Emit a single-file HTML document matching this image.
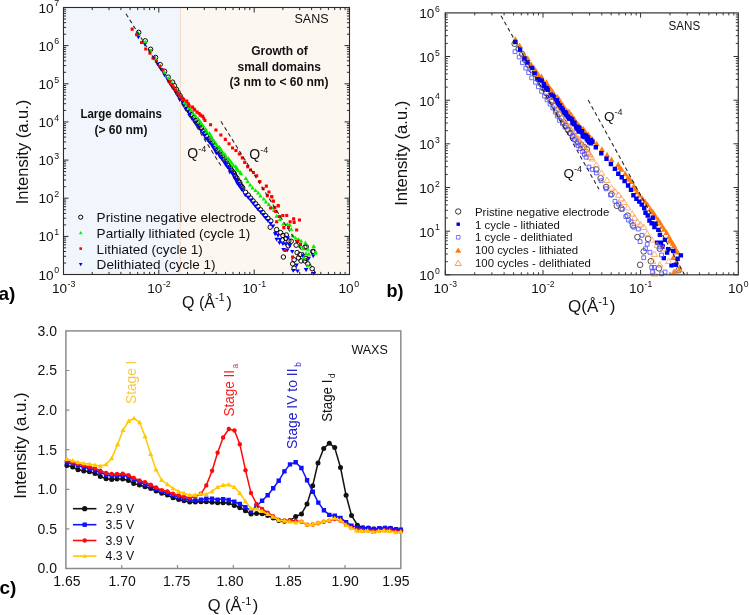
<!DOCTYPE html><html><head><meta charset="utf-8"><style>html,body{margin:0;padding:0;background:#fff;}svg{display:block;will-change:transform;}text{font-family:"Liberation Sans", sans-serif;}</style></head><body>
<svg width="749" height="615" viewBox="0 0 749 615">
<rect width="749" height="615" fill="#fff"/>
<rect x="63.5" y="7.5" width="116.80000000000001" height="267.0" fill="#f1f6fc"/>
<rect x="180.3" y="7.5" width="169.2" height="267.0" fill="#fdf7f2"/>
<path d="M180.3 7.5V274.5" stroke="#f6d9c6" stroke-width="1"/>
<text x="311.5" y="23" font-size="12.5" text-anchor="middle" fill="#111">SANS</text>
<g font-size="12" font-weight="bold" fill="#111" text-anchor="middle">
<text x="279.5" y="54.5">Growth of</text>
<text x="279.3" y="70.5">small domains</text>
<text x="279" y="86.3">(3 nm to &lt; 60 nm)</text>
<text x="121.2" y="117.8" textLength="81.5" lengthAdjust="spacingAndGlyphs">Large domains</text>
<text x="120.9" y="133.8">(&gt; 60 nm)</text>
</g>
<g font-size="14" fill="#111"><text x="187.3" y="157.6">Q<tspan dy="-6" font-size="9">-4</tspan></text>
<text x="249.3" y="158.6">Q<tspan dy="-6" font-size="9">-4</tspan></text></g>
<g stroke="#000" stroke-width="0.95" fill="none"><circle cx="138.7" cy="32.4" r="2.25"/><circle cx="145.2" cy="40.8" r="2.25"/><circle cx="150.6" cy="49.3" r="2.25"/><circle cx="155.6" cy="57.5" r="2.25"/><circle cx="160.2" cy="64.6" r="2.25"/><circle cx="164.6" cy="71.3" r="2.25"/><circle cx="168.2" cy="77.2" r="2.25"/><circle cx="172.6" cy="82.2" r="2.25"/><circle cx="174.4" cy="85.7" r="2.25"/><circle cx="176.4" cy="89.3" r="2.25"/><circle cx="178.1" cy="92.5" r="2.25"/><circle cx="180.1" cy="95.7" r="2.25"/><circle cx="182.2" cy="99.1" r="2.25"/><circle cx="184" cy="102.6" r="2.25"/><circle cx="186" cy="105.5" r="2.25"/><circle cx="187.8" cy="108.6" r="2.25"/><circle cx="189.7" cy="111.7" r="2.25"/><circle cx="191.6" cy="114.6" r="2.25"/><circle cx="193.5" cy="117.8" r="2.25"/><circle cx="195.5" cy="120.6" r="2.25"/><circle cx="197.6" cy="122.9" r="2.25"/><circle cx="199.4" cy="126.1" r="2.25"/><circle cx="201.5" cy="128.1" r="2.25"/><circle cx="203" cy="130.9" r="2.25"/><circle cx="204.9" cy="133.3" r="2.25"/><circle cx="206.8" cy="136.1" r="2.25"/><circle cx="209.1" cy="138.8" r="2.25"/><circle cx="210.5" cy="141.1" r="2.25"/><circle cx="212.6" cy="143.1" r="2.25"/><circle cx="214.5" cy="146.1" r="2.25"/><circle cx="215.8" cy="148.5" r="2.25"/><circle cx="217.6" cy="150.5" r="2.25"/><circle cx="219.7" cy="153" r="2.25"/><circle cx="220.8" cy="155" r="2.25"/><circle cx="222.7" cy="157.1" r="2.25"/><circle cx="224.1" cy="159.3" r="2.25"/><circle cx="226" cy="161.3" r="2.25"/><circle cx="227.4" cy="163.8" r="2.25"/><circle cx="228.6" cy="165.8" r="2.25"/><circle cx="230.5" cy="168.1" r="2.25"/><circle cx="231.6" cy="170.5" r="2.25"/><circle cx="233.5" cy="172.6" r="2.25"/><circle cx="234.4" cy="174.1" r="2.25"/><circle cx="235.6" cy="176.6" r="2.25"/><circle cx="236.9" cy="178.2" r="2.25"/><circle cx="238.2" cy="180.9" r="2.25"/><circle cx="239.7" cy="182.3" r="2.25"/><circle cx="240.4" cy="184.9" r="2.25"/><circle cx="241.8" cy="186.6" r="2.25"/><circle cx="242.7" cy="188" r="2.25"/><circle cx="245.6" cy="192.3" r="2.25"/><circle cx="248.3" cy="195.1" r="2.25"/><circle cx="250.7" cy="198.1" r="2.25"/><circle cx="253.1" cy="201" r="2.25"/><circle cx="255.6" cy="203.8" r="2.25"/><circle cx="258" cy="206.6" r="2.25"/><circle cx="260.6" cy="209.8" r="2.25"/><circle cx="262.9" cy="212.5" r="2.25"/><circle cx="265.5" cy="215.7" r="2.25"/><circle cx="268" cy="218.3" r="2.25"/><circle cx="270.8" cy="220.9" r="2.25"/><circle cx="270.2" cy="227.2" r="2.25"/><circle cx="276.6" cy="229.6" r="2.25"/><circle cx="280.5" cy="232.6" r="2.25"/><circle cx="282.9" cy="235.5" r="2.25"/><circle cx="286.3" cy="235" r="2.25"/><circle cx="285.9" cy="238.4" r="2.25"/><circle cx="282.4" cy="239.9" r="2.25"/><circle cx="288.8" cy="240.9" r="2.25"/><circle cx="291.2" cy="241.3" r="2.25"/><circle cx="288.3" cy="245.7" r="2.25"/><circle cx="296.1" cy="245.2" r="2.25"/><circle cx="304.9" cy="247.2" r="2.25"/><circle cx="297.1" cy="252.6" r="2.25"/><circle cx="300" cy="254.5" r="2.25"/><circle cx="298.5" cy="257.9" r="2.25"/><circle cx="301" cy="260.9" r="2.25"/><circle cx="294.1" cy="259.9" r="2.25"/><circle cx="292.7" cy="263.8" r="2.25"/><circle cx="294.1" cy="268.2" r="2.25"/><circle cx="283.4" cy="257" r="2.25"/><circle cx="304.9" cy="260.9" r="2.25"/><circle cx="307.8" cy="263.8" r="2.25"/><circle cx="312.7" cy="251.6" r="2.25"/><circle cx="312.2" cy="268.7" r="2.25"/><circle cx="305.9" cy="258.4" r="2.25"/><circle cx="306.2" cy="246.7" r="2.25"/><circle cx="313.6" cy="251.6" r="2.25"/></g>
<path fill="#0000ff" d="M138.4 39.2L140.6 35.4L136.2 35.4zM144.9 46.7L147.1 42.8L142.7 42.8zM150 53.4L152.2 49.5L147.8 49.5zM154 60.3L156.2 56.5L151.8 56.5zM157.6 66.4L159.8 62.5L155.4 62.5zM161.2 71.8L163.4 68L159 68zM164.6 77.3L166.8 73.4L162.4 73.4zM167.8 81.6L170 77.7L165.6 77.7zM168.5 83.4L170.7 79.5L166.3 79.5zM170.4 86.6L172.6 82.7L168.2 82.7zM173.4 91L175.6 87.2L171.2 87.2zM176 94.7L178.2 90.8L173.8 90.8zM177.4 97.6L179.6 93.8L175.2 93.8zM179.7 101.9L181.9 98.1L177.5 98.1zM182.7 104.3L184.9 100.5L180.5 100.5zM183.5 107.8L185.7 104L181.3 104zM185.7 111.5L187.9 107.7L183.5 107.7zM188.4 114.4L190.6 110.6L186.2 110.6zM189.5 117.8L191.7 114L187.3 114zM192.1 121.1L194.3 117.3L189.9 117.3zM194.9 124.3L197.1 120.5L192.7 120.5zM196.3 127.1L198.5 123.3L194.1 123.3zM198.7 129.1L200.9 125.2L196.5 125.2zM201 132.9L203.2 129L198.8 129zM203 135.6L205.2 131.7L200.8 131.7zM204.3 137.6L206.5 133.8L202.1 133.8zM205.8 140.5L208 136.7L203.6 136.7zM207.6 142.2L209.8 138.3L205.4 138.3zM209.7 144.8L211.9 141L207.5 141zM211.6 147.1L213.8 143.2L209.4 143.2zM212.9 149.6L215.1 145.8L210.7 145.8zM214.7 152.3L216.9 148.5L212.5 148.5zM216.3 155.4L218.5 151.5L214.1 151.5zM218.9 156.5L221.1 152.7L216.7 152.7zM219.9 159.1L222.1 155.2L217.7 155.2zM221.7 160.9L223.9 157L219.5 157zM224 164.3L226.2 160.5L221.8 160.5zM224.9 165.7L227.1 161.8L222.7 161.8zM225.8 167.2L228 163.3L223.6 163.3zM227.6 169.4L229.8 165.6L225.4 165.6zM229.8 171.2L232 167.4L227.6 167.4zM229.9 174.4L232.1 170.5L227.7 170.5zM232.1 175.1L234.3 171.2L229.9 171.2zM233.3 176.9L235.5 173L231.1 173zM234.4 180.2L236.6 176.4L232.2 176.4zM236 181.7L238.2 177.8L233.8 177.8zM236.2 183.1L238.4 179.2L234 179.2zM237.2 185.5L239.4 181.6L235 181.6zM238.8 187.3L241 183.4L236.6 183.4zM239.5 188.2L241.7 184.4L237.3 184.4zM241.2 191.1L243.4 187.2L239 187.2zM242.3 192.5L244.5 188.6L240.1 188.6zM245.3 197.2L247.5 193.4L243.1 193.4zM248.1 199.6L250.3 195.8L245.9 195.8zM250.9 202.2L253.1 198.4L248.7 198.4zM253.1 205.5L255.3 201.6L250.9 201.6zM255.3 208.2L257.5 204.4L253.1 204.4zM257.7 211.2L259.9 207.4L255.5 207.4zM260.6 214.1L262.8 210.2L258.4 210.2zM263.1 216.9L265.3 213L260.9 213zM265.4 220L267.6 216.1L263.2 216.1zM267.8 222.8L270 218.9L265.6 218.9zM270.6 225.8L272.8 221.9L268.4 221.9zM273.1 228.3L275.3 224.4L270.9 224.4zM276 235.1L278.2 231.2L273.8 231.2zM279.9 241.9L282.1 238L277.7 238zM275.1 236.2L277.3 232.3L272.9 232.3zM278 237.7L280.2 233.8L275.8 233.8zM276.6 241.6L278.8 237.8L274.4 237.8zM279.5 245L281.7 241.2L277.3 241.2zM282.9 246L285.1 242.2L280.7 242.2zM285.4 246L287.6 242.2L283.2 242.2zM287.8 240.1L290 236.2L285.6 236.2zM289.8 247.9L292 244L287.6 244zM283.4 251.8L285.6 247.9L281.2 247.9zM287.3 252.3L289.5 248.4L285.1 248.4zM292.2 253.8L294.4 249.9L290 249.9zM302.9 258.2L305.1 254.3L300.7 254.3zM308.8 260.6L311 256.8L306.6 256.8zM313.2 258.2L315.4 254.3L311 254.3zM296.6 267.4L298.8 263.6L294.4 263.6zM293.2 272.8L295.4 269L291 269zM297.6 273.3L299.8 269.5L295.4 269.5zM305.9 271.8L308.1 268L303.7 268zM313.7 275.7L315.9 271.9L311.5 271.9zM306.2 271.9L308.4 268.1L304 268.1z"/>
<path fill="#00f000" d="M138.7 31.5L140.9 35.4L136.5 35.4zM145.2 39.8L147.4 43.6L143 43.6zM150.6 48.4L152.8 52.2L148.4 52.2zM155.6 56.6L157.8 60.4L153.4 60.4zM160.2 63.7L162.4 67.6L158 67.6zM164.6 70.3L166.8 74.2L162.4 74.2zM168.2 76.1L170.4 80L166 80zM171.6 80.3L173.8 84.1L169.4 84.1zM173.2 84.4L175.4 88.2L171 88.2zM176.5 87.5L178.7 91.3L174.3 91.3zM178.1 90.8L180.3 94.6L175.9 94.6zM180.3 94L182.5 97.9L178.1 97.9zM183 96.6L185.2 100.4L180.8 100.4zM185.1 100.6L187.3 104.4L182.9 104.4zM186.7 102.6L188.9 106.4L184.5 106.4zM189.3 105.6L191.5 109.4L187.1 109.4zM191 108.2L193.2 112.1L188.8 112.1zM193.1 111L195.3 114.8L190.9 114.8zM195.6 113.8L197.8 117.6L193.4 117.6zM198.2 116.4L200.4 120.3L196 120.3zM199.8 118.9L202 122.8L197.6 122.8zM201.5 121.3L203.7 125.1L199.3 125.1zM203.2 123.8L205.4 127.6L201 127.6zM205.7 127L207.9 130.8L203.5 130.8zM206.8 129.3L209 133.1L204.6 133.1zM209.6 131.1L211.8 135L207.4 135zM211.1 133.9L213.3 137.8L208.9 137.8zM212.4 136.7L214.6 140.6L210.2 140.6zM213.9 138.5L216.1 142.4L211.7 142.4zM215.9 141.3L218.1 145.2L213.7 145.2zM217.1 143.2L219.3 147L214.9 147zM219.3 144.9L221.5 148.8L217.1 148.8zM220.5 146.5L222.7 150.3L218.3 150.3zM221.5 148.1L223.7 152L219.3 152zM223.1 150.9L225.3 154.7L220.9 154.7zM224.9 151.9L227.1 155.8L222.7 155.8zM226.1 154.7L228.3 158.5L223.9 158.5zM228.6 156.2L230.8 160.1L226.4 160.1zM229.2 157.4L231.4 161.2L227 161.2zM230.7 159.3L232.9 163.2L228.5 163.2zM231.9 160.9L234.1 164.8L229.7 164.8zM233.5 163.3L235.7 167.1L231.3 167.1zM235.8 164.2L238 168.1L233.6 168.1zM236.1 166.3L238.3 170.2L233.9 170.2zM237.5 167L239.7 170.8L235.3 170.8zM238.4 168.5L240.6 172.3L236.2 172.3zM240.3 170.1L242.5 173.9L238.1 173.9zM241.1 171.5L243.3 175.3L238.9 175.3zM245.8 176.1L248 180L243.6 180zM247.6 179.1L249.8 182.9L245.4 182.9zM250.1 182.7L252.3 186.6L247.9 186.6zM252.5 185.5L254.7 189.4L250.3 189.4zM255.5 188.2L257.7 192.1L253.3 192.1zM258.2 190.8L260.4 194.6L256 194.6zM260.5 193.7L262.7 197.6L258.3 197.6zM263.7 196.7L265.9 200.6L261.5 200.6zM266 199.7L268.2 203.5L263.8 203.5zM268.8 202.3L271 206.1L266.6 206.1zM271.8 205.4L274 209.3L269.6 209.3zM274 208.2L276.2 212L271.8 212zM276.6 213.8L278.8 217.7L274.4 217.7zM280 217.2L282.2 221.1L277.8 221.1zM283.4 221.6L285.6 225.5L281.2 225.5zM287.3 222.1L289.5 226L285.1 226zM289.8 222.6L292 226.5L287.6 226.5zM291.2 226.9L293.4 230.8L289 230.8zM292.7 233.3L294.9 237.2L290.5 237.2zM295.6 235.7L297.8 239.6L293.4 239.6zM298.5 237.2L300.7 241.1L296.3 241.1zM301 238.7L303.2 242.6L298.8 242.6zM305.4 240.6L307.6 244.5L303.2 244.5zM300 244L302.2 247.8L297.8 247.8zM313.7 244L315.9 247.8L311.5 247.8zM302.9 246.5L305.1 250.3L300.7 250.3zM307.8 246.9L310 250.8L305.6 250.8zM315.6 249.9L317.8 253.8L313.4 253.8zM305.9 251.3L308.1 255.2L303.7 255.2zM308.8 251.8L311 255.7L306.6 255.7zM303.9 255.7L306.1 259.5L301.7 259.5zM307.8 263.5L310 267.3L305.6 267.3zM313.6 244.5L315.8 248.3L311.4 248.3zM315 250.9L317.2 254.8L312.8 254.8z"/>
<path fill="#ff0000" d="M130.6 27.6h3.1v3.1h-3.1zM135.1 33.1h3.1v3.1h-3.1zM140 40.9h3.1v3.1h-3.1zM144.2 47.4h3.1v3.1h-3.1zM148.4 51.7h3.1v3.1h-3.1zM151.5 56.7h3.1v3.1h-3.1zM154.8 59.7h3.1v3.1h-3.1zM158.1 64.7h3.1v3.1h-3.1zM161.3 68.5h3.1v3.1h-3.1zM167.6 80h3.1v3.1h-3.1zM169.8 83.2h3.1v3.1h-3.1zM171.7 85.4h3.1v3.1h-3.1zM174.1 88.5h3.1v3.1h-3.1zM176.5 91.6h3.1v3.1h-3.1zM178.6 94.4h3.1v3.1h-3.1zM180.4 97.1h3.1v3.1h-3.1zM182 98.1h3.1v3.1h-3.1zM185.2 99.6h3.1v3.1h-3.1zM186.8 102.2h3.1v3.1h-3.1zM187.5 104.3h3.1v3.1h-3.1zM190.9 105.6h3.1v3.1h-3.1zM192.5 107.5h3.1v3.1h-3.1zM193.1 108.5h3.1v3.1h-3.1zM195.5 110.6h3.1v3.1h-3.1zM197.6 112h3.1v3.1h-3.1zM198.8 113.6h3.1v3.1h-3.1zM200.5 114.6h3.1v3.1h-3.1zM201.1 114.7h3.1v3.1h-3.1zM202.2 116.7h3.1v3.1h-3.1zM203.4 118.9h3.1v3.1h-3.1zM209 123.2h3.1v3.1h-3.1zM214.4 128.5h3.1v3.1h-3.1zM219.3 133.4h3.1v3.1h-3.1zM223.8 137.8h3.1v3.1h-3.1zM227.5 142.2h3.1v3.1h-3.1zM231 146.4h3.1v3.1h-3.1zM234.4 149h3.1v3.1h-3.1zM237.8 152.4h3.1v3.1h-3.1zM240.8 156.3h3.1v3.1h-3.1zM243.2 160.8h3.1v3.1h-3.1zM246.1 165.1h3.1v3.1h-3.1zM249 168.5h3.1v3.1h-3.1zM251.9 171h3.1v3.1h-3.1zM255.1 174.2h3.1v3.1h-3.1zM258.3 180h3.1v3.1h-3.1zM261.6 187.2h3.1v3.1h-3.1zM264.8 184.6h3.1v3.1h-3.1zM267.4 190.4h3.1v3.1h-3.1zM270.1 195h3.1v3.1h-3.1zM271.9 199.5h3.1v3.1h-3.1zM276.6 204.1h3.1v3.1h-3.1zM273.2 206h3.1v3.1h-3.1zM265.8 194.1h3.1v3.1h-3.1zM270.3 195.4h3.1v3.1h-3.1zM271.6 199.6h3.1v3.1h-3.1zM276.8 204.5h3.1v3.1h-3.1zM269.1 206.4h3.1v3.1h-3.1zM274.2 209.8h3.1v3.1h-3.1zM277.9 214.9h3.1v3.1h-3.1zM281.3 213.9h3.1v3.1h-3.1zM285.2 213.9h3.1v3.1h-3.1zM292.1 217.3h3.1v3.1h-3.1zM297.9 218.5h3.1v3.1h-3.1zM275.1 220.2h3.1v3.1h-3.1zM288.6 220.2h3.1v3.1h-3.1zM292.6 220.8h3.1v3.1h-3.1zM282.3 226.1h3.1v3.1h-3.1zM286.9 225.9h3.1v3.1h-3.1zM295.1 228.5h3.1v3.1h-3.1zM296.1 239.8h3.1v3.1h-3.1zM298.9 242.8h3.1v3.1h-3.1zM283.6 249h3.1v3.1h-3.1zM291.1 255.4h3.1v3.1h-3.1z"/>
<path d="M126 13.8L222 167.4M220.9 121.3L316.5 274.3" stroke="#222" stroke-width="1.05" stroke-dasharray="4 3" fill="none"/>
<circle cx="80.7" cy="217.2" r="2.1" stroke="#000" stroke-width="1" fill="none"/>
<path fill="#00f000" d="M80.7 231.1L82.5 234.2L78.9 234.2z"/>
<path fill="#ff0000" d="M79.4 247.3h2.6v2.6h-2.6z"/>
<path fill="#0000ff" d="M80.7 266.2L82.5 263L78.9 263z"/>
<g font-size="13.55" fill="#111">
<text x="96.6" y="222.2">Pristine negative electrode</text>
<text x="96.6" y="237.9">Partially lithiated (cycle 1)</text>
<text x="96.6" y="253.6">Lithiated (cycle 1)</text>
<text x="96.6" y="269.4">Delithiated (cycle 1)</text>
</g>
<path d="M63.5 274.5v-5M63.5 7.5v5M92.2 274.5v-2.6M92.2 7.5v2.6M109 274.5v-2.6M109 7.5v2.6M120.9 274.5v-2.6M120.9 7.5v2.6M130.1 274.5v-2.6M130.1 7.5v2.6M137.7 274.5v-2.6M137.7 7.5v2.6M144.1 274.5v-2.6M144.1 7.5v2.6M149.6 274.5v-2.6M149.6 7.5v2.6M154.5 274.5v-2.6M154.5 7.5v2.6M158.8 274.5v-5M158.8 7.5v5M187.5 274.5v-2.6M187.5 7.5v2.6M204.3 274.5v-2.6M204.3 7.5v2.6M216.2 274.5v-2.6M216.2 7.5v2.6M225.5 274.5v-2.6M225.5 7.5v2.6M233 274.5v-2.6M233 7.5v2.6M239.4 274.5v-2.6M239.4 7.5v2.6M244.9 274.5v-2.6M244.9 7.5v2.6M249.8 274.5v-2.6M249.8 7.5v2.6M254.2 274.5v-5M254.2 7.5v5M282.9 274.5v-2.6M282.9 7.5v2.6M299.7 274.5v-2.6M299.7 7.5v2.6M311.6 274.5v-2.6M311.6 7.5v2.6M320.8 274.5v-2.6M320.8 7.5v2.6M328.4 274.5v-2.6M328.4 7.5v2.6M334.7 274.5v-2.6M334.7 7.5v2.6M340.3 274.5v-2.6M340.3 7.5v2.6M345.1 274.5v-2.6M345.1 7.5v2.6M63.5 274.5h5M349.5 274.5h-5M63.5 263h2.6M349.5 263h-2.6M63.5 256.3h2.6M349.5 256.3h-2.6M63.5 251.5h2.6M349.5 251.5h-2.6M63.5 247.8h2.6M349.5 247.8h-2.6M63.5 244.8h2.6M349.5 244.8h-2.6M63.5 242.3h2.6M349.5 242.3h-2.6M63.5 240.1h2.6M349.5 240.1h-2.6M63.5 238.1h2.6M349.5 238.1h-2.6M63.5 236.4h5M349.5 236.4h-5M63.5 224.9h2.6M349.5 224.9h-2.6M63.5 218.2h2.6M349.5 218.2h-2.6M63.5 213.4h2.6M349.5 213.4h-2.6M63.5 209.7h2.6M349.5 209.7h-2.6M63.5 206.7h2.6M349.5 206.7h-2.6M63.5 204.1h2.6M349.5 204.1h-2.6M63.5 201.9h2.6M349.5 201.9h-2.6M63.5 200h2.6M349.5 200h-2.6M63.5 198.2h5M349.5 198.2h-5M63.5 186.7h2.6M349.5 186.7h-2.6M63.5 180h2.6M349.5 180h-2.6M63.5 175.2h2.6M349.5 175.2h-2.6M63.5 171.6h2.6M349.5 171.6h-2.6M63.5 168.5h2.6M349.5 168.5h-2.6M63.5 166h2.6M349.5 166h-2.6M63.5 163.8h2.6M349.5 163.8h-2.6M63.5 161.8h2.6M349.5 161.8h-2.6M63.5 160.1h5M349.5 160.1h-5M63.5 148.6h2.6M349.5 148.6h-2.6M63.5 141.9h2.6M349.5 141.9h-2.6M63.5 137.1h2.6M349.5 137.1h-2.6M63.5 133.4h2.6M349.5 133.4h-2.6M63.5 130.4h2.6M349.5 130.4h-2.6M63.5 127.8h2.6M349.5 127.8h-2.6M63.5 125.6h2.6M349.5 125.6h-2.6M63.5 123.7h2.6M349.5 123.7h-2.6M63.5 121.9h5M349.5 121.9h-5M63.5 110.4h2.6M349.5 110.4h-2.6M63.5 103.7h2.6M349.5 103.7h-2.6M63.5 99h2.6M349.5 99h-2.6M63.5 95.3h2.6M349.5 95.3h-2.6M63.5 92.2h2.6M349.5 92.2h-2.6M63.5 89.7h2.6M349.5 89.7h-2.6M63.5 87.5h2.6M349.5 87.5h-2.6M63.5 85.5h2.6M349.5 85.5h-2.6M63.5 83.8h5M349.5 83.8h-5M63.5 72.3h2.6M349.5 72.3h-2.6M63.5 65.6h2.6M349.5 65.6h-2.6M63.5 60.8h2.6M349.5 60.8h-2.6M63.5 57.1h2.6M349.5 57.1h-2.6M63.5 54.1h2.6M349.5 54.1h-2.6M63.5 51.6h2.6M349.5 51.6h-2.6M63.5 49.3h2.6M349.5 49.3h-2.6M63.5 47.4h2.6M349.5 47.4h-2.6M63.5 45.6h5M349.5 45.6h-5M63.5 34.2h2.6M349.5 34.2h-2.6M63.5 27.4h2.6M349.5 27.4h-2.6M63.5 22.7h2.6M349.5 22.7h-2.6M63.5 19h2.6M349.5 19h-2.6M63.5 16h2.6M349.5 16h-2.6M63.5 13.4h2.6M349.5 13.4h-2.6M63.5 11.2h2.6M349.5 11.2h-2.6M63.5 9.2h2.6M349.5 9.2h-2.6" stroke="#2a2a2a" stroke-width="1" fill="none"/>
<rect x="63.5" y="7.5" width="286.0" height="267.0" fill="none" stroke="#2a2a2a" stroke-width="1.1"/>
<g font-size="13.6" fill="#111">
<text x="53.6" y="279.5" text-anchor="end">10</text><text x="54.2" y="273.2" font-size="8.8">0</text>
<text x="53.6" y="241.4" text-anchor="end">10</text><text x="54.2" y="235.1" font-size="8.8">1</text>
<text x="53.6" y="203.2" text-anchor="end">10</text><text x="54.2" y="196.9" font-size="8.8">2</text>
<text x="53.6" y="165.1" text-anchor="end">10</text><text x="54.2" y="158.8" font-size="8.8">3</text>
<text x="53.6" y="126.9" text-anchor="end">10</text><text x="54.2" y="120.6" font-size="8.8">4</text>
<text x="53.6" y="88.8" text-anchor="end">10</text><text x="54.2" y="82.5" font-size="8.8">5</text>
<text x="53.6" y="50.6" text-anchor="end">10</text><text x="54.2" y="44.3" font-size="8.8">6</text>
<text x="53.6" y="12.5" text-anchor="end">10</text><text x="54.2" y="6.2" font-size="8.8">7</text>
<text x="67" y="292.5" text-anchor="end">10</text><text x="67.6" y="286.5" font-size="8.8">-3</text>
<text x="162.3" y="292.5" text-anchor="end">10</text><text x="162.9" y="286.5" font-size="8.8">-2</text>
<text x="257.7" y="292.5" text-anchor="end">10</text><text x="258.3" y="286.5" font-size="8.8">-1</text>
<text x="353.7" y="292.5" text-anchor="end">10</text><text x="354.3" y="286.5" font-size="8.8">0</text>
</g>
<text x="182" y="307.7" font-size="16" fill="#111">Q (&#197;<tspan dy="-6.5" font-size="11">-1</tspan><tspan dy="6.5" dx="1.8">)</tspan></text>
<text transform="translate(28.3,152) rotate(-90)" font-size="16.5" text-anchor="middle" fill="#111">Intensity (a.u.)</text>
<text x="-1.5" y="299.8" font-size="19" font-weight="bold" fill="#000">a)</text>
<text x="668.6" y="29.9" font-size="12.5" fill="#111" textLength="31.6" lengthAdjust="spacingAndGlyphs">SANS</text>
<g font-size="13.5" fill="#111"><text x="604" y="120.9">Q<tspan dy="-6" font-size="9">-4</tspan></text>
<text x="563.5" y="177.8">Q<tspan dy="-6" font-size="9">-4</tspan></text></g>
<g stroke="#3a3a3a" stroke-width="0.9" fill="none"><circle cx="514.7" cy="43.8" r="2.8"/><circle cx="518.7" cy="48.9" r="2.8"/><circle cx="522.3" cy="54.2" r="2.8"/><circle cx="525.1" cy="59.8" r="2.8"/><circle cx="528.4" cy="65" r="2.8"/><circle cx="531.6" cy="69.9" r="2.8"/><circle cx="535.1" cy="74.2" r="2.8"/><circle cx="538" cy="79.1" r="2.8"/><circle cx="541.1" cy="83.8" r="2.8"/><circle cx="543.7" cy="88.4" r="2.8"/><circle cx="546.4" cy="93.2" r="2.8"/><circle cx="548.9" cy="97.6" r="2.8"/><circle cx="551.8" cy="101.7" r="2.8"/><circle cx="554.3" cy="106.2" r="2.8"/><circle cx="556.7" cy="110.2" r="2.8"/><circle cx="558.8" cy="114.3" r="2.8"/><circle cx="561.4" cy="118.3" r="2.8"/><circle cx="563.4" cy="122.1" r="2.8"/><circle cx="565.6" cy="125.7" r="2.8"/><circle cx="567.9" cy="129.6" r="2.8"/><circle cx="570.4" cy="133" r="2.8"/><circle cx="572.8" cy="136.1" r="2.8"/><circle cx="575.4" cy="139.2" r="2.8"/><circle cx="578.2" cy="142.1" r="2.8"/><circle cx="581.3" cy="144.6" r="2.8"/><circle cx="584" cy="147.1" r="2.8"/><circle cx="586.8" cy="149.3" r="2.8"/><circle cx="596.3" cy="169.4" r="2.8"/><circle cx="600.6" cy="178.2" r="2.8"/><circle cx="606.1" cy="187" r="2.8"/><circle cx="611.5" cy="194.2" r="2.8"/><circle cx="616.8" cy="205.8" r="2.8"/><circle cx="621.3" cy="208.5" r="2.8"/><circle cx="627.6" cy="215.6" r="2.8"/><circle cx="632.9" cy="225.5" r="2.8"/><circle cx="637.4" cy="237.1" r="2.8"/><circle cx="648.1" cy="238.9" r="2.8"/><circle cx="643.7" cy="251.4" r="2.8"/><circle cx="659.8" cy="248.7" r="2.8"/><circle cx="640.1" cy="264.8" r="2.8"/><circle cx="650.8" cy="261.2" r="2.8"/><circle cx="658.9" cy="268.4" r="2.8"/><circle cx="678.6" cy="270.2" r="2.8"/></g>
<path fill="#ff7c10" d="M515.4 36.2L518.5 41.8L512.2 41.8zM519.6 42.5L522.7 48L516.4 48zM523.9 51.5L527.1 57L520.8 57zM527.7 55.6L530.9 61.1L524.6 61.1zM531.2 61.4L534.4 66.9L528.1 66.9zM535.5 66.9L538.7 72.4L532.4 72.4zM538.4 71.5L541.5 77L535.2 77zM541.5 73.5L544.6 79L538.3 79zM543.2 77.8L546.4 83.3L540.1 83.3zM546.4 79.3L549.6 84.9L543.3 84.9zM548.7 83.2L551.9 88.7L545.6 88.7zM550.6 86.1L553.8 91.6L547.5 91.6zM552.5 88.3L555.6 93.8L549.3 93.8zM554.7 91.8L557.8 97.3L551.5 97.3zM557.4 93.9L560.6 99.4L554.3 99.4zM559.3 96.5L562.4 102.1L556.1 102.1zM560.3 100.1L563.5 105.6L557.2 105.6zM562.6 101.5L565.7 107L559.4 107zM563.3 103.7L566.4 109.2L560.1 109.2zM565.3 106.5L568.4 112.1L562.1 112.1zM566.6 107.4L569.7 112.9L563.4 112.9zM568.9 108.6L572 114.1L565.7 114.1zM569.7 111.9L572.9 117.4L566.6 117.4zM571.5 112.1L574.7 117.6L568.4 117.6zM572 113.8L575.1 119.3L568.8 119.3zM574.3 115.9L577.5 121.4L571.2 121.4zM575.4 118.7L578.5 124.2L572.2 124.2zM576.1 119L579.2 124.5L572.9 124.5zM578 121.2L581.2 126.7L574.9 126.7zM578.3 122.9L581.5 128.4L575.2 128.4zM579.5 123.2L582.7 128.7L576.4 128.7zM580.2 125.3L583.4 130.8L577.1 130.8zM582.4 126.2L585.5 131.7L579.2 131.7zM583.5 126.1L586.6 131.6L580.3 131.6zM583.6 128.1L586.8 133.6L580.5 133.6zM585.5 130.1L588.6 135.6L582.3 135.6zM585.8 129.8L588.9 135.3L582.6 135.3zM586.8 131.2L589.9 136.8L583.6 136.8zM588.3 131.6L591.4 137.1L585.1 137.1zM589 133.7L592.2 139.2L585.9 139.2zM589.9 134.7L593.1 140.2L586.8 140.2zM590.6 134.8L593.7 140.3L587.4 140.3zM591.1 135.7L594.2 141.2L587.9 141.2zM592.5 136.1L595.6 141.6L589.3 141.6zM592.6 138.3L595.7 143.8L589.4 143.8zM618.2 161.5L621.3 167L615 167zM619.9 164.2L623.1 169.7L616.8 169.7zM621.5 166.2L624.6 171.7L618.3 171.7zM625.2 170.8L628.3 176.3L622 176.3zM627.8 174.5L631 180L624.7 180zM629.7 176.2L632.9 181.7L626.6 181.7zM631.5 178.6L634.7 184.1L628.4 184.1zM633.8 183L636.9 188.5L630.6 188.5zM635.6 185.7L638.8 191.2L632.5 191.2zM636.8 189.1L640 194.6L633.7 194.6zM639.6 192.2L642.7 197.7L636.4 197.7zM642.5 195.6L645.6 201.1L639.3 201.1zM645.2 198.8L648.3 204.3L642 204.3zM647.5 201.4L650.7 206.9L644.4 206.9zM650.3 206.1L653.5 211.6L647.2 211.6zM652.7 208.7L655.8 214.2L649.5 214.2zM654.3 210.9L657.4 216.4L651.1 216.4zM655.8 213.9L658.9 219.4L652.6 219.4zM658.4 217L661.5 222.6L655.2 222.6zM660.4 219.9L663.5 225.4L657.2 225.4zM662.2 223.3L665.4 228.8L659.1 228.8zM664.2 226.2L667.3 231.7L661 231.7zM666.6 229.5L669.7 235.1L663.4 235.1zM668.9 233.8L672.1 239.3L665.8 239.3zM670.2 236.8L673.4 242.3L667.1 242.3zM672.8 240.3L675.9 245.8L669.6 245.8zM674.1 242.6L677.3 248.1L671 248.1zM675.4 246L678.6 251.6L672.3 251.6zM677.2 248.3L680.4 253.9L674.1 253.9zM596.6 140.7L599.8 146.2L593.5 146.2zM601.9 146.2L605 151.8L598.8 151.8zM607.1 151.7L610.2 157.2L604 157.2zM611.5 156.5L614.6 162.1L608.4 162.1zM671 237.8L674.1 243.4L667.9 243.4zM676.5 248.8L679.6 254.4L673.4 254.4zM673.2 254.5L676.4 260L670.1 260zM676.5 258.9L679.6 264.4L673.4 264.4zM679.4 266.2L682.5 271.7L676.2 271.7zM674.1 268.9L677.2 274.4L671 274.4z"/>
<path fill="#0000f0" d="M513 39.8h4.4v4.4h-4.4zM517.9 47.4h4.4v4.4h-4.4zM522.3 56.3h4.4v4.4h-4.4zM525.3 60.3h4.4v4.4h-4.4zM530.1 65.7h4.4v4.4h-4.4zM532.5 71.2h4.4v4.4h-4.4zM535.3 76.9h4.4v4.4h-4.4zM539.5 78.4h4.4v4.4h-4.4zM541.5 81.9h4.4v4.4h-4.4zM543.9 85.5h4.4v4.4h-4.4zM545.5 87.6h4.4v4.4h-4.4zM547.8 93.5h4.4v4.4h-4.4zM550.5 93.6h4.4v4.4h-4.4zM553.4 99.4h4.4v4.4h-4.4zM554.4 98.6h4.4v4.4h-4.4zM555.8 100.9h4.4v4.4h-4.4zM557.8 103.2h4.4v4.4h-4.4zM559.3 106.1h4.4v4.4h-4.4zM561.6 110.8h4.4v4.4h-4.4zM563.6 110.9h4.4v4.4h-4.4zM564.4 113.4h4.4v4.4h-4.4zM565.8 114.5h4.4v4.4h-4.4zM566.6 116.1h4.4v4.4h-4.4zM569.8 117.2h4.4v4.4h-4.4zM570.2 120.7h4.4v4.4h-4.4zM572.2 120.6h4.4v4.4h-4.4zM572.3 122.2h4.4v4.4h-4.4zM573.8 124.4h4.4v4.4h-4.4zM576.1 127.4h4.4v4.4h-4.4zM577.1 125.4h4.4v4.4h-4.4zM576.5 129.4h4.4v4.4h-4.4zM579.3 129.8h4.4v4.4h-4.4zM579.8 129.1h4.4v4.4h-4.4zM580.4 134h4.4v4.4h-4.4zM582.3 134.9h4.4v4.4h-4.4zM583.6 133.6h4.4v4.4h-4.4zM582.8 134.1h4.4v4.4h-4.4zM584.6 136.9h4.4v4.4h-4.4zM586.4 137.8h4.4v4.4h-4.4zM586.7 138.6h4.4v4.4h-4.4zM587.2 138.5h4.4v4.4h-4.4zM587.2 140h4.4v4.4h-4.4zM588.5 141.2h4.4v4.4h-4.4zM590.1 139.4h4.4v4.4h-4.4zM537.1 77.5h4.4v4.4h-4.4zM542 84.2h4.4v4.4h-4.4zM544.5 86.2h4.4v4.4h-4.4zM548.6 92.5h4.4v4.4h-4.4zM551.4 95.1h4.4v4.4h-4.4zM554.7 98.1h4.4v4.4h-4.4zM556.8 103.4h4.4v4.4h-4.4zM560.6 107.4h4.4v4.4h-4.4zM562.8 109.9h4.4v4.4h-4.4zM563.8 111.9h4.4v4.4h-4.4zM567.4 116.5h4.4v4.4h-4.4zM568.1 116.3h4.4v4.4h-4.4zM570.4 121.1h4.4v4.4h-4.4zM572.1 121.6h4.4v4.4h-4.4zM574.4 126.4h4.4v4.4h-4.4zM575.2 124.8h4.4v4.4h-4.4zM577.1 128.2h4.4v4.4h-4.4zM579.4 129.2h4.4v4.4h-4.4zM581.1 133.1h4.4v4.4h-4.4zM582 132.7h4.4v4.4h-4.4zM584.3 134.5h4.4v4.4h-4.4zM585.4 135.2h4.4v4.4h-4.4zM585.6 138.4h4.4v4.4h-4.4zM587 140.1h4.4v4.4h-4.4zM588.6 138h4.4v4.4h-4.4zM589.3 139.9h4.4v4.4h-4.4zM593.6 145.1h4.4v4.4h-4.4zM599.1 151.1h4.4v4.4h-4.4zM604.3 156.5h4.4v4.4h-4.4zM608.7 161.9h4.4v4.4h-4.4zM612.7 166.7h4.4v4.4h-4.4zM616.1 171.6h4.4v4.4h-4.4zM619.5 175h4.4v4.4h-4.4zM622.4 178.9h4.4v4.4h-4.4zM625.9 183.3h4.4v4.4h-4.4zM628.8 187.7h4.4v4.4h-4.4zM631.2 193.1h4.4v4.4h-4.4zM634.2 196.5h4.4v4.4h-4.4zM637.1 199.4h4.4v4.4h-4.4zM639.5 202.4h4.4v4.4h-4.4zM642 205.8h4.4v4.4h-4.4zM643.3 210.6h4.4v4.4h-4.4zM645.5 213.3h4.4v4.4h-4.4zM647.2 218.3h4.4v4.4h-4.4zM650.5 215.5h4.4v4.4h-4.4zM649.4 221.1h4.4v4.4h-4.4zM653.3 221.6h4.4v4.4h-4.4zM652.2 224.9h4.4v4.4h-4.4zM656.1 227.7h4.4v4.4h-4.4zM657.7 232.7h4.4v4.4h-4.4zM662.7 237.7h4.4v4.4h-4.4zM654.9 240.4h4.4v4.4h-4.4zM658.8 240.4h4.4v4.4h-4.4zM660.5 244.3h4.4v4.4h-4.4zM666 247.1h4.4v4.4h-4.4zM664.9 250.4h4.4v4.4h-4.4zM671 248.7h4.4v4.4h-4.4zM678.7 253.2h4.4v4.4h-4.4zM661.6 255.9h4.4v4.4h-4.4zM675.4 256.5h4.4v4.4h-4.4zM669.3 263.1h4.4v4.4h-4.4zM673.8 262.6h4.4v4.4h-4.4z"/>
<path fill="none" stroke="#ff9a50" stroke-width="0.8" d="M547.8 93.3L550.9 98.8L544.7 98.8zM551.7 97.2L554.8 102.6L548.6 102.6zM554.4 102.5L557.5 108L551.3 108zM556.8 106.4L559.9 111.8L553.7 111.8zM559.4 110L562.5 115.4L556.3 115.4zM562 114.3L565.1 119.7L558.9 119.7zM564.8 117.1L567.9 122.5L561.7 122.5zM566.4 120.6L569.5 126L563.3 126zM569.1 123.4L572.2 128.9L566 128.9zM570.8 126.4L573.9 131.8L567.7 131.8zM573.2 129.5L576.3 134.9L570.1 134.9zM574.3 131.2L577.4 136.6L571.2 136.6zM576.4 134.3L579.5 139.7L573.3 139.7zM578.4 135.8L581.5 141.2L575.3 141.2zM579.5 138.9L582.6 144.3L576.4 144.3zM581.3 140.3L584.4 145.7L578.2 145.7zM582.7 143.4L585.8 148.8L579.6 148.8zM584.2 144.7L587.3 150.1L581.1 150.1zM585.7 146.4L588.8 151.8L582.6 151.8zM587.5 149.1L590.6 154.5L584.4 154.5zM588.4 149.6L591.5 155L585.3 155zM590 151.3L593.1 156.7L586.9 156.7zM590.5 154.1L593.6 159.5L587.4 159.5zM592.2 155.6L595.3 161L589.1 161zM596.3 161.9L599.4 167.3L593.2 167.3zM601.6 169.8L604.7 175.2L598.5 175.2zM607 177.1L610.1 182.5L603.9 182.5zM611.5 184.8L614.6 190.2L608.4 190.2zM615 188.4L618.1 193.8L611.9 193.8zM618.6 191.9L621.7 197.3L615.5 197.3zM621.3 195.5L624.4 200.9L618.2 200.9zM624 199.1L627.1 204.5L620.9 204.5zM627.6 204.5L630.7 209.9L624.5 209.9zM632 210.7L635.1 216.1L628.9 216.1zM634.7 214.7L637.8 220.1L631.6 220.1zM637.4 218.8L640.5 224.2L634.3 224.2zM640.5 221.4L643.6 226.8L637.4 226.8zM643.7 224.1L646.8 229.5L640.6 229.5zM647.2 230.4L650.3 235.8L644.1 235.8zM651.7 236.7L654.8 242.1L648.6 242.1zM657.1 242L660.2 247.4L654 247.4zM663.3 245.6L666.4 251L660.2 251zM654.4 251L657.5 256.4L651.3 256.4zM652.6 258.1L655.7 263.5L649.5 263.5zM659.8 261.7L662.9 267.1L656.7 267.1zM668.7 258.1L671.8 263.5L665.6 263.5zM674.1 268.9L677.2 274.3L671 274.3zM681.2 268.9L684.3 274.3L678.1 274.3zM654.4 270.7L657.5 276.1L651.3 276.1z"/>
<path fill="none" stroke="#4f4fff" stroke-width="0.85" d="M513.1 49.8h3.8v3.8h-3.8zM517.3 55.1h3.8v3.8h-3.8zM520.5 60.8h3.8v3.8h-3.8zM523.9 66.2h3.8v3.8h-3.8zM526.8 70.7h3.8v3.8h-3.8zM529.8 75.9h3.8v3.8h-3.8zM533.6 80.4h3.8v3.8h-3.8zM536.5 84.9h3.8v3.8h-3.8zM539.7 89.5h3.8v3.8h-3.8zM542.6 94.1h3.8v3.8h-3.8zM545.2 98h3.8v3.8h-3.8zM548.2 102.2h3.8v3.8h-3.8zM550.9 106.1h3.8v3.8h-3.8zM553.4 110.1h3.8v3.8h-3.8zM555.4 114.1h3.8v3.8h-3.8zM557.6 118.4h3.8v3.8h-3.8zM560.5 121.5h3.8v3.8h-3.8zM563.1 125.2h3.8v3.8h-3.8zM565.8 128h3.8v3.8h-3.8zM568.3 131.5h3.8v3.8h-3.8zM570.6 134.4h3.8v3.8h-3.8zM572.5 138h3.8v3.8h-3.8zM574.8 141.1h3.8v3.8h-3.8zM576.3 143.8h3.8v3.8h-3.8zM578.3 146.7h3.8v3.8h-3.8zM580.7 149.8h3.8v3.8h-3.8zM582.5 152.5h3.8v3.8h-3.8zM584.2 155.3h3.8v3.8h-3.8zM587 165.1h3.8v3.8h-3.8zM590.6 167.6h3.8v3.8h-3.8zM594.4 171h3.8v3.8h-3.8zM599.2 178.8h3.8v3.8h-3.8zM604.2 186.9h3.8v3.8h-3.8zM608.7 193.1h3.8v3.8h-3.8zM613.1 199.4h3.8v3.8h-3.8zM616.7 202.1h3.8v3.8h-3.8zM620.3 207.5h3.8v3.8h-3.8zM623.9 214.6h3.8v3.8h-3.8zM626.6 218.2h3.8v3.8h-3.8zM629.2 220h3.8v3.8h-3.8zM631.9 225.3h3.8v3.8h-3.8zM636.4 227.1h3.8v3.8h-3.8zM640 233.4h3.8v3.8h-3.8zM638.2 239.7h3.8v3.8h-3.8zM645.3 242.3h3.8v3.8h-3.8zM643.6 246.8h3.8v3.8h-3.8zM648 250.4h3.8v3.8h-3.8zM641.8 255.8h3.8v3.8h-3.8zM657.9 245h3.8v3.8h-3.8zM659.7 253.1h3.8v3.8h-3.8zM649.8 265.6h3.8v3.8h-3.8zM652.5 265.6h3.8v3.8h-3.8zM650.7 270.1h3.8v3.8h-3.8zM663.2 270.1h3.8v3.8h-3.8zM659.7 271.9h3.8v3.8h-3.8z"/>
<path d="M501 15.7L599 189.3M588.2 100.1L684.5 274.5" stroke="#222" stroke-width="1.05" stroke-dasharray="4 3" fill="none"/>
<circle cx="458.2" cy="211.5" r="2.7" stroke="#333" stroke-width="1" fill="none"/>
<path fill="#0000ee" d="M456.5 222.5h3.4v3.4h-3.4z"/>
<path fill="none" stroke="#6666ff" stroke-width="0.9" d="M456.4 235.5h3.6v3.6h-3.6z"/>
<path fill="#ff7c10" d="M458.2 247.4L461.3 252.8L455.1 252.8z"/>
<path fill="none" stroke="#ff9a50" stroke-width="1" d="M458.2 260.1L461.3 265.5L455.1 265.5z"/>
<g font-size="11.4" fill="#111">
<text x="475" y="215.6">Pristine negative electrode</text>
<text x="475" y="228.5">1 cycle - lithiated</text>
<text x="475" y="241.4">1 cycle - delithiated</text>
<text x="475" y="254.3">100 cycles - lithiated</text>
<text x="475" y="267.2">100 cycles - delithiated</text>
</g>
<path d="M445.3 274.8v-4.8M445.3 12.9v4.8M474.7 274.8v-2.5M474.7 12.9v2.5M491.9 274.8v-2.5M491.9 12.9v2.5M504.1 274.8v-2.5M504.1 12.9v2.5M513.6 274.8v-2.5M513.6 12.9v2.5M521.3 274.8v-2.5M521.3 12.9v2.5M527.8 274.8v-2.5M527.8 12.9v2.5M533.5 274.8v-2.5M533.5 12.9v2.5M538.5 274.8v-2.5M538.5 12.9v2.5M543 274.8v-4.8M543 12.9v4.8M572.4 274.8v-2.5M572.4 12.9v2.5M589.6 274.8v-2.5M589.6 12.9v2.5M601.8 274.8v-2.5M601.8 12.9v2.5M611.2 274.8v-2.5M611.2 12.9v2.5M619 274.8v-2.5M619 12.9v2.5M625.5 274.8v-2.5M625.5 12.9v2.5M631.2 274.8v-2.5M631.2 12.9v2.5M636.2 274.8v-2.5M636.2 12.9v2.5M640.6 274.8v-4.8M640.6 12.9v4.8M670 274.8v-2.5M670 12.9v2.5M687.2 274.8v-2.5M687.2 12.9v2.5M699.4 274.8v-2.5M699.4 12.9v2.5M708.9 274.8v-2.5M708.9 12.9v2.5M716.6 274.8v-2.5M716.6 12.9v2.5M723.2 274.8v-2.5M723.2 12.9v2.5M728.8 274.8v-2.5M728.8 12.9v2.5M733.8 274.8v-2.5M733.8 12.9v2.5M445.3 274.8h4.8M738.3 274.8h-4.8M445.3 261.7h2.5M738.3 261.7h-2.5M445.3 254h2.5M738.3 254h-2.5M445.3 248.5h2.5M738.3 248.5h-2.5M445.3 244.3h2.5M738.3 244.3h-2.5M445.3 240.8h2.5M738.3 240.8h-2.5M445.3 237.9h2.5M738.3 237.9h-2.5M445.3 235.4h2.5M738.3 235.4h-2.5M445.3 233.1h2.5M738.3 233.1h-2.5M445.3 231.2h4.8M738.3 231.2h-4.8M445.3 218h2.5M738.3 218h-2.5M445.3 210.3h2.5M738.3 210.3h-2.5M445.3 204.9h2.5M738.3 204.9h-2.5M445.3 200.6h2.5M738.3 200.6h-2.5M445.3 197.2h2.5M738.3 197.2h-2.5M445.3 194.3h2.5M738.3 194.3h-2.5M445.3 191.7h2.5M738.3 191.7h-2.5M445.3 189.5h2.5M738.3 189.5h-2.5M445.3 187.5h4.8M738.3 187.5h-4.8M445.3 174.4h2.5M738.3 174.4h-2.5M445.3 166.7h2.5M738.3 166.7h-2.5M445.3 161.2h2.5M738.3 161.2h-2.5M445.3 157h2.5M738.3 157h-2.5M445.3 153.5h2.5M738.3 153.5h-2.5M445.3 150.6h2.5M738.3 150.6h-2.5M445.3 148.1h2.5M738.3 148.1h-2.5M445.3 145.8h2.5M738.3 145.8h-2.5M445.3 143.8h4.8M738.3 143.8h-4.8M445.3 130.7h2.5M738.3 130.7h-2.5M445.3 123h2.5M738.3 123h-2.5M445.3 117.6h2.5M738.3 117.6h-2.5M445.3 113.3h2.5M738.3 113.3h-2.5M445.3 109.9h2.5M738.3 109.9h-2.5M445.3 107h2.5M738.3 107h-2.5M445.3 104.4h2.5M738.3 104.4h-2.5M445.3 102.2h2.5M738.3 102.2h-2.5M445.3 100.2h4.8M738.3 100.2h-4.8M445.3 87.1h2.5M738.3 87.1h-2.5M445.3 79.4h2.5M738.3 79.4h-2.5M445.3 73.9h2.5M738.3 73.9h-2.5M445.3 69.7h2.5M738.3 69.7h-2.5M445.3 66.2h2.5M738.3 66.2h-2.5M445.3 63.3h2.5M738.3 63.3h-2.5M445.3 60.8h2.5M738.3 60.8h-2.5M445.3 58.5h2.5M738.3 58.5h-2.5M445.3 56.5h4.8M738.3 56.5h-4.8M445.3 43.4h2.5M738.3 43.4h-2.5M445.3 35.7h2.5M738.3 35.7h-2.5M445.3 30.3h2.5M738.3 30.3h-2.5M445.3 26h2.5M738.3 26h-2.5M445.3 22.6h2.5M738.3 22.6h-2.5M445.3 19.7h2.5M738.3 19.7h-2.5M445.3 17.1h2.5M738.3 17.1h-2.5M445.3 14.9h2.5M738.3 14.9h-2.5" stroke="#333" stroke-width="1" fill="none"/>
<rect x="445.3" y="12.9" width="292.99999999999994" height="261.90000000000003" fill="none" stroke="#333" stroke-width="1.2"/>
<g font-size="13.6" fill="#111">
<text x="434.4" y="280.2" text-anchor="end">10</text><text x="434.9" y="273.8" font-size="8.6">0</text>
<text x="434.4" y="236.6" text-anchor="end">10</text><text x="434.9" y="230.2" font-size="8.6">1</text>
<text x="434.4" y="192.9" text-anchor="end">10</text><text x="434.9" y="186.5" font-size="8.6">2</text>
<text x="434.4" y="149.2" text-anchor="end">10</text><text x="434.9" y="142.8" font-size="8.6">3</text>
<text x="434.4" y="105.6" text-anchor="end">10</text><text x="434.9" y="99.2" font-size="8.6">4</text>
<text x="434.4" y="61.9" text-anchor="end">10</text><text x="434.9" y="55.5" font-size="8.6">5</text>
<text x="434.4" y="18.3" text-anchor="end">10</text><text x="434.9" y="11.9" font-size="8.6">6</text>
<text x="448.7" y="292.9" text-anchor="end">10</text><text x="449.3" y="286.6" font-size="8.6">-3</text>
<text x="546.4" y="292.9" text-anchor="end">10</text><text x="547" y="286.6" font-size="8.6">-2</text>
<text x="644" y="292.9" text-anchor="end">10</text><text x="644.6" y="286.6" font-size="8.6">-1</text>
<text x="743.2" y="292.9" text-anchor="end">10</text><text x="743.8" y="286.6" font-size="8.6">0</text>
</g>
<text x="568" y="311.6" font-size="17" fill="#111">Q(&#197;<tspan dy="-7" font-size="11.5">-1</tspan><tspan dy="7" dx="1.2">)</tspan></text>
<text transform="translate(407,153.3) rotate(-90)" font-size="16.6" text-anchor="middle" fill="#111">Intensity (a.u.)</text>
<text x="386.6" y="296.8" font-size="18" font-weight="bold" fill="#000">b)</text>
<rect x="65.9" y="330.9" width="334.9" height="237.60000000000002" fill="none" stroke="#8c8c8c" stroke-width="1.5"/>
<path d="M65.9 528.9h3.5M65.9 489.3h3.5M65.9 449.7h3.5M65.9 410.1h3.5M65.9 370.5h3.5M121.7 568.5v-3.5M177.5 568.5v-3.5M233.3 568.5v-3.5M289.2 568.5v-3.5M345 568.5v-3.5" stroke="#8c8c8c" stroke-width="1.2"/>
<g font-size="14" fill="#111" text-anchor="end">
<text x="57" y="573.4">0.0</text>
<text x="57" y="533.8">0.5</text>
<text x="57" y="494.2">1.0</text>
<text x="57" y="454.6">1.5</text>
<text x="57" y="415">2.0</text>
<text x="57" y="375.4">2.5</text>
<text x="57" y="335.8">3.0</text>
</g><g font-size="14" fill="#111" text-anchor="middle">
<text x="66.9" y="586">1.65</text>
<text x="122.1" y="586">1.70</text>
<text x="176.7" y="586">1.75</text>
<text x="230" y="586">1.80</text>
<text x="288.2" y="586">1.85</text>
<text x="345.2" y="586">1.90</text>
<text x="395.9" y="586">1.95</text>
</g>
<text x="233" y="611" font-size="16.5" text-anchor="middle" fill="#111">Q (&#197;<tspan dy="-6.5" font-size="11">-1</tspan><tspan dy="6.5" dx="1.5">)</tspan></text>
<text transform="translate(25.8,445.5) rotate(-90)" font-size="16.8" text-anchor="middle" fill="#111">Intensity (a.u.)</text>
<text x="-0.5" y="593.7" font-size="19" font-weight="bold" fill="#000">c)</text>
<text x="351.4" y="353.8" font-size="12.5" fill="#111">WAXS</text>
<polyline points="66.9,465.4 72.7,467.1 78,469.8 83.8,471 89.4,471.8 95,473.4 100.3,476.4 106.1,478.7 111.7,479.6 117,479.1 122.7,479.1 128.4,480.4 133.7,483.4 139.4,485.1 145,486.7 150.8,488.6 156.1,491.1 161.7,493.3 167.4,495.1 173,497.7 178.7,499.5 184,500.8 189.7,502.1 195.3,502 201,501.8 206.3,501.8 212,502.3 217.6,502.7 223.1,502.7 228.7,503.1 234.3,505.4 239.8,507.7 245.4,510.7 251,514.1 256.5,513.4 262.1,513.8 267.7,515.4 273.2,518 278.7,520.5 284.4,521.3 290,520.5 295.7,516.5 301.5,513.9 307,504.1 312.7,485.7 318,463 323.7,448.5 329.3,443.2 334.7,447.6 340.5,467.5 346.1,495.3 351.5,515.4 357.4,525.2 362.9,527.8 368.4,528 373.9,528.9 379.4,528.4 385,528.2 390.5,528.2 396,529.5 400.8,530.2" fill="none" stroke="#111111" stroke-width="1.5" stroke-linejoin="round"/>
<g fill="#111111"><circle cx="66.9" cy="465.4" r="2.5"/><circle cx="72.7" cy="467.1" r="2.5"/><circle cx="78" cy="469.8" r="2.5"/><circle cx="83.8" cy="471" r="2.5"/><circle cx="89.4" cy="471.8" r="2.5"/><circle cx="95" cy="473.4" r="2.5"/><circle cx="100.3" cy="476.4" r="2.5"/><circle cx="106.1" cy="478.7" r="2.5"/><circle cx="111.7" cy="479.6" r="2.5"/><circle cx="117" cy="479.1" r="2.5"/><circle cx="122.7" cy="479.1" r="2.5"/><circle cx="128.4" cy="480.4" r="2.5"/><circle cx="133.7" cy="483.4" r="2.5"/><circle cx="139.4" cy="485.1" r="2.5"/><circle cx="145" cy="486.7" r="2.5"/><circle cx="150.8" cy="488.6" r="2.5"/><circle cx="156.1" cy="491.1" r="2.5"/><circle cx="161.7" cy="493.3" r="2.5"/><circle cx="167.4" cy="495.1" r="2.5"/><circle cx="173" cy="497.7" r="2.5"/><circle cx="178.7" cy="499.5" r="2.5"/><circle cx="184" cy="500.8" r="2.5"/><circle cx="189.7" cy="502.1" r="2.5"/><circle cx="195.3" cy="502" r="2.5"/><circle cx="201" cy="501.8" r="2.5"/><circle cx="206.3" cy="501.8" r="2.5"/><circle cx="212" cy="502.3" r="2.5"/><circle cx="217.6" cy="502.7" r="2.5"/><circle cx="223.1" cy="502.7" r="2.5"/><circle cx="228.7" cy="503.1" r="2.5"/><circle cx="234.3" cy="505.4" r="2.5"/><circle cx="239.8" cy="507.7" r="2.5"/><circle cx="245.4" cy="510.7" r="2.5"/><circle cx="251" cy="514.1" r="2.5"/><circle cx="256.5" cy="513.4" r="2.5"/><circle cx="262.1" cy="513.8" r="2.5"/><circle cx="267.7" cy="515.4" r="2.5"/><circle cx="273.2" cy="518" r="2.5"/><circle cx="278.7" cy="520.5" r="2.5"/><circle cx="284.4" cy="521.3" r="2.5"/><circle cx="290" cy="520.5" r="2.5"/><circle cx="295.7" cy="516.5" r="2.5"/><circle cx="301.5" cy="513.9" r="2.5"/><circle cx="307" cy="504.1" r="2.5"/><circle cx="312.7" cy="485.7" r="2.5"/><circle cx="318" cy="463" r="2.5"/><circle cx="323.7" cy="448.5" r="2.5"/><circle cx="329.3" cy="443.2" r="2.5"/><circle cx="334.7" cy="447.6" r="2.5"/><circle cx="340.5" cy="467.5" r="2.5"/><circle cx="346.1" cy="495.3" r="2.5"/><circle cx="351.5" cy="515.4" r="2.5"/><circle cx="357.4" cy="525.2" r="2.5"/><circle cx="362.9" cy="527.8" r="2.5"/><circle cx="368.4" cy="528" r="2.5"/><circle cx="373.9" cy="528.9" r="2.5"/><circle cx="379.4" cy="528.4" r="2.5"/><circle cx="385" cy="528.2" r="2.5"/><circle cx="390.5" cy="528.2" r="2.5"/><circle cx="396" cy="529.5" r="2.5"/><circle cx="400.8" cy="530.2" r="2.5"/></g>
<polyline points="66.9,462.5 72.7,463.7 78,465.6 83.8,467.2 89.4,468.5 95,470.2 100.3,472.4 106.1,474.7 111.7,475.8 117,475.8 122.7,475.4 128.4,476.6 133.7,479.6 139.4,482 145,484.3 150.8,486.3 156.1,488.8 161.7,491.3 167.4,493 173,495.2 178.7,497 184,498.6 189.7,499.8 195.3,500.4 201,499.6 206.3,498.7 212,498.7 217.6,499.6 223.1,499.1 228.7,500 234.3,501.8 239.8,504 245.4,507.1 251,510.7 256.5,506.3 262.1,500.8 267.7,495.3 273.2,488.2 278.7,480.8 284.4,471.4 290,464.4 295.7,462.3 301.4,468 307.1,480.3 312.8,491.7 318.3,502.6 323.9,510.2 329.3,514.9 334.8,515.8 340.5,517.9 346.1,522.2 351.5,525.6 357.4,527.5 362.9,528 368.4,528.3 373.9,529 379.4,528.2 385,528 390.5,528.3 396,529.2 400.8,529.6" fill="none" stroke="#1010ff" stroke-width="1.5" stroke-linejoin="round"/>
<path fill="#1010ff" d="M64.7 460.3h4.4v4.4h-4.4zM70.5 461.5h4.4v4.4h-4.4zM75.8 463.4h4.4v4.4h-4.4zM81.6 465h4.4v4.4h-4.4zM87.2 466.3h4.4v4.4h-4.4zM92.8 468h4.4v4.4h-4.4zM98.1 470.2h4.4v4.4h-4.4zM103.9 472.5h4.4v4.4h-4.4zM109.5 473.6h4.4v4.4h-4.4zM114.8 473.6h4.4v4.4h-4.4zM120.5 473.2h4.4v4.4h-4.4zM126.2 474.4h4.4v4.4h-4.4zM131.5 477.4h4.4v4.4h-4.4zM137.2 479.8h4.4v4.4h-4.4zM142.8 482.1h4.4v4.4h-4.4zM148.6 484.1h4.4v4.4h-4.4zM153.9 486.6h4.4v4.4h-4.4zM159.5 489.1h4.4v4.4h-4.4zM165.2 490.8h4.4v4.4h-4.4zM170.8 493h4.4v4.4h-4.4zM176.5 494.8h4.4v4.4h-4.4zM181.8 496.4h4.4v4.4h-4.4zM187.5 497.6h4.4v4.4h-4.4zM193.1 498.2h4.4v4.4h-4.4zM198.8 497.4h4.4v4.4h-4.4zM204.1 496.5h4.4v4.4h-4.4zM209.8 496.5h4.4v4.4h-4.4zM215.4 497.4h4.4v4.4h-4.4zM220.9 496.9h4.4v4.4h-4.4zM226.5 497.8h4.4v4.4h-4.4zM232.1 499.6h4.4v4.4h-4.4zM237.6 501.8h4.4v4.4h-4.4zM243.2 504.9h4.4v4.4h-4.4zM248.8 508.5h4.4v4.4h-4.4zM254.3 504.1h4.4v4.4h-4.4zM259.9 498.6h4.4v4.4h-4.4zM265.5 493.1h4.4v4.4h-4.4zM271 486h4.4v4.4h-4.4zM276.5 478.6h4.4v4.4h-4.4zM282.2 469.2h4.4v4.4h-4.4zM287.8 462.2h4.4v4.4h-4.4zM293.5 460.1h4.4v4.4h-4.4zM299.2 465.8h4.4v4.4h-4.4zM304.9 478.1h4.4v4.4h-4.4zM310.6 489.5h4.4v4.4h-4.4zM316.1 500.4h4.4v4.4h-4.4zM321.7 508h4.4v4.4h-4.4zM327.1 512.7h4.4v4.4h-4.4zM332.6 513.6h4.4v4.4h-4.4zM338.3 515.7h4.4v4.4h-4.4zM343.9 520h4.4v4.4h-4.4zM349.3 523.4h4.4v4.4h-4.4zM355.2 525.3h4.4v4.4h-4.4zM360.7 525.8h4.4v4.4h-4.4zM366.2 526.1h4.4v4.4h-4.4zM371.7 526.8h4.4v4.4h-4.4zM377.2 526h4.4v4.4h-4.4zM382.8 525.8h4.4v4.4h-4.4zM388.3 526.1h4.4v4.4h-4.4zM393.8 527h4.4v4.4h-4.4zM398.6 527.4h4.4v4.4h-4.4z"/>
<polyline points="66.9,460.5 72.7,462.5 78,464 83.8,465.4 89.4,466.7 95,468.4 100.3,470.7 106.1,473 111.7,474 117,474 122.7,473.8 128.4,475.1 133.7,478 139.4,480.4 145,482.3 150.7,484.8 156,487.5 161.7,490.1 167.4,491.5 173,493.7 178.7,495.5 184,496.8 189.7,497.7 195.4,496.4 201,493.8 206.3,485.4 212.1,470.7 217.6,452.7 223.1,437.5 228.8,429 234.5,430.5 239.8,444.2 245.5,470.2 251,493 256.5,504 262.1,509 267.7,512.7 273,516.1 278.4,519.7 284.5,520.5 290,520.5 295.7,521 301.5,521.7 307,524.8 312.7,524.5 318,523.2 323.7,521.8 329.3,520.8 334.7,519 340.5,520.6 346.1,524.8 351.5,528 357.4,530.2 362.9,530.8 368.4,530.6 373.9,531.4 379.4,530.6 385,530.2 390.5,530.4 396,531.6 400.8,531.5" fill="none" stroke="#ff0a0a" stroke-width="1.5" stroke-linejoin="round"/>
<g fill="#ff0a0a"><circle cx="66.9" cy="460.5" r="2.2"/><circle cx="72.7" cy="462.5" r="2.2"/><circle cx="78" cy="464" r="2.2"/><circle cx="83.8" cy="465.4" r="2.2"/><circle cx="89.4" cy="466.7" r="2.2"/><circle cx="95" cy="468.4" r="2.2"/><circle cx="100.3" cy="470.7" r="2.2"/><circle cx="106.1" cy="473" r="2.2"/><circle cx="111.7" cy="474" r="2.2"/><circle cx="117" cy="474" r="2.2"/><circle cx="122.7" cy="473.8" r="2.2"/><circle cx="128.4" cy="475.1" r="2.2"/><circle cx="133.7" cy="478" r="2.2"/><circle cx="139.4" cy="480.4" r="2.2"/><circle cx="145" cy="482.3" r="2.2"/><circle cx="150.7" cy="484.8" r="2.2"/><circle cx="156" cy="487.5" r="2.2"/><circle cx="161.7" cy="490.1" r="2.2"/><circle cx="167.4" cy="491.5" r="2.2"/><circle cx="173" cy="493.7" r="2.2"/><circle cx="178.7" cy="495.5" r="2.2"/><circle cx="184" cy="496.8" r="2.2"/><circle cx="189.7" cy="497.7" r="2.2"/><circle cx="195.4" cy="496.4" r="2.2"/><circle cx="201" cy="493.8" r="2.2"/><circle cx="206.3" cy="485.4" r="2.2"/><circle cx="212.1" cy="470.7" r="2.2"/><circle cx="217.6" cy="452.7" r="2.2"/><circle cx="223.1" cy="437.5" r="2.2"/><circle cx="228.8" cy="429" r="2.2"/><circle cx="234.5" cy="430.5" r="2.2"/><circle cx="239.8" cy="444.2" r="2.2"/><circle cx="245.5" cy="470.2" r="2.2"/><circle cx="251" cy="493" r="2.2"/><circle cx="256.5" cy="504" r="2.2"/><circle cx="262.1" cy="509" r="2.2"/><circle cx="267.7" cy="512.7" r="2.2"/><circle cx="273" cy="516.1" r="2.2"/><circle cx="278.4" cy="519.7" r="2.2"/><circle cx="284.5" cy="520.5" r="2.2"/><circle cx="290" cy="520.5" r="2.2"/><circle cx="295.7" cy="521" r="2.2"/><circle cx="301.5" cy="521.7" r="2.2"/><circle cx="307" cy="524.8" r="2.2"/><circle cx="312.7" cy="524.5" r="2.2"/><circle cx="318" cy="523.2" r="2.2"/><circle cx="323.7" cy="521.8" r="2.2"/><circle cx="329.3" cy="520.8" r="2.2"/><circle cx="334.7" cy="519" r="2.2"/><circle cx="340.5" cy="520.6" r="2.2"/><circle cx="346.1" cy="524.8" r="2.2"/><circle cx="351.5" cy="528" r="2.2"/><circle cx="357.4" cy="530.2" r="2.2"/><circle cx="362.9" cy="530.8" r="2.2"/><circle cx="368.4" cy="530.6" r="2.2"/><circle cx="373.9" cy="531.4" r="2.2"/><circle cx="379.4" cy="530.6" r="2.2"/><circle cx="385" cy="530.2" r="2.2"/><circle cx="390.5" cy="530.4" r="2.2"/><circle cx="396" cy="531.6" r="2.2"/><circle cx="400.8" cy="531.5" r="2.2"/></g>
<polyline points="66.9,459.1 72.7,460.7 78,462.3 83.8,463.4 89.4,464 95,465 100.3,466 106.1,464.4 111.6,458.4 117.6,444.4 123,430.1 128.7,421 134,418.4 139.6,422.4 145.1,436.4 150.7,454.1 156,469.7 161.7,480 167.4,484.4 173,488.4 178.7,491.5 184,493.3 189.7,495.1 195.3,495.1 201,493.8 206.3,494.3 212,491.4 217.6,487.1 223.1,485 228.7,484.7 234.3,487.1 239.8,493 245.4,501.4 251,508.5 256.5,508.7 262.1,511.1 267.7,514.1 273,516.7 278.4,520 284.5,520.7 289.5,521.4 295.7,522.6 301.5,521.2 307,524.6 312.7,524.2 318,522.7 323.7,521.2 329.3,520.2 334.7,518.3 340.5,520.2 346.1,525 351.3,528 356.5,530.6 361.7,531 367.5,530.8 373,531.9 378.5,531 384,530.6 389.5,531 395.6,532.3 400.8,531.8" fill="none" stroke="#ffc800" stroke-width="1.5" stroke-linejoin="round"/>
<path fill="#ffc800" d="M66.9 456.5L69.5 461.1L64.3 461.1zM72.7 458.1L75.3 462.6L70.1 462.6zM78 459.7L80.6 464.2L75.4 464.2zM83.8 460.8L86.4 465.3L81.2 465.3zM89.4 461.4L92 465.9L86.8 465.9zM95 462.4L97.6 466.9L92.4 466.9zM100.3 463.4L102.9 467.9L97.7 467.9zM106.1 461.8L108.7 466.3L103.5 466.3zM111.6 455.8L114.2 460.3L109 460.3zM117.6 441.8L120.2 446.3L115 446.3zM123 427.5L125.6 432.1L120.4 432.1zM128.7 418.4L131.3 422.9L126.1 422.9zM134 415.8L136.6 420.3L131.4 420.3zM139.6 419.8L142.2 424.3L137 424.3zM145.1 433.8L147.7 438.3L142.5 438.3zM150.7 451.5L153.3 456.1L148.1 456.1zM156 467.1L158.6 471.6L153.4 471.6zM161.7 477.4L164.3 481.9L159.1 481.9zM167.4 481.8L170 486.3L164.8 486.3zM173 485.8L175.6 490.3L170.4 490.3zM178.7 488.9L181.3 493.4L176.1 493.4zM184 490.7L186.6 495.2L181.4 495.2zM189.7 492.5L192.3 497.1L187.1 497.1zM195.3 492.5L197.9 497.1L192.7 497.1zM201 491.2L203.6 495.8L198.4 495.8zM206.3 491.7L208.9 496.2L203.7 496.2zM212 488.8L214.6 493.3L209.4 493.3zM217.6 484.5L220.2 489.1L215 489.1zM223.1 482.4L225.7 486.9L220.5 486.9zM228.7 482.1L231.3 486.6L226.1 486.6zM234.3 484.5L236.9 489.1L231.7 489.1zM239.8 490.4L242.4 494.9L237.2 494.9zM245.4 498.8L248 503.3L242.8 503.3zM251 505.9L253.6 510.4L248.4 510.4zM256.5 506.1L259.1 510.6L253.9 510.6zM262.1 508.5L264.7 513.1L259.5 513.1zM267.7 511.5L270.3 516.1L265.1 516.1zM273 514.1L275.6 518.7L270.4 518.7zM278.4 517.4L281 522L275.8 522zM284.5 518.1L287.1 522.7L281.9 522.7zM289.5 518.8L292.1 523.4L286.9 523.4zM295.7 520L298.3 524.6L293.1 524.6zM301.5 518.6L304.1 523.2L298.9 523.2zM307 522L309.6 526.6L304.4 526.6zM312.7 521.6L315.3 526.2L310.1 526.2zM318 520.1L320.6 524.7L315.4 524.7zM323.7 518.6L326.3 523.2L321.1 523.2zM329.3 517.6L331.9 522.2L326.7 522.2zM334.7 515.7L337.3 520.2L332.1 520.2zM340.5 517.6L343.1 522.2L337.9 522.2zM346.1 522.4L348.7 527L343.5 527zM351.3 525.4L353.9 530L348.7 530zM356.5 528L359.1 532.6L353.9 532.6zM361.7 528.4L364.3 533L359.1 533zM367.5 528.2L370.1 532.8L364.9 532.8zM373 529.3L375.6 533.9L370.4 533.9zM378.5 528.4L381.1 533L375.9 533zM384 528L386.6 532.6L381.4 532.6zM389.5 528.4L392.1 533L386.9 533zM395.6 529.7L398.2 534.2L393 534.2zM400.8 529.2L403.4 533.8L398.2 533.8z"/>
<path d="M73 508.7H96.4" stroke="#111111" stroke-width="1.6"/>
<circle cx="84.7" cy="508.7" r="2.6" fill="#111111"/>
<text x="105.6" y="513" font-size="12.3" fill="#111">2.9 V</text>
<path d="M73 524.7H96.4" stroke="#1010ff" stroke-width="1.6"/>
<path fill="#1010ff" d="M82.5 522.5h4.4v4.4h-4.4z"/>
<text x="105.6" y="529" font-size="12.3" fill="#111">3.5 V</text>
<path d="M73 540.5H96.4" stroke="#ff0a0a" stroke-width="1.6"/>
<circle cx="84.7" cy="540.5" r="2.2" fill="#ff0a0a"/>
<text x="105.6" y="544.8" font-size="12.3" fill="#111">3.9 V</text>
<path d="M73 556.1H96.4" stroke="#ffc800" stroke-width="1.6"/>
<path fill="#ffc800" d="M84.7 553.8L87 557.8L82.4 557.8z"/>
<text x="105.6" y="560.4" font-size="12.3" fill="#111">4.3 V</text>
<text transform="translate(135.9,403.9) rotate(-90)" font-size="14" fill="#f8c943" textLength="43.2" lengthAdjust="spacingAndGlyphs">Stage I</text>
<text transform="translate(234.2,416.5) rotate(-90)" font-size="14" fill="#ff1a1a" textLength="46.6" lengthAdjust="spacingAndGlyphs">Stage II</text>
<text transform="translate(237.7,368.6) rotate(-90)" font-size="8.2" fill="#ff1a1a">a</text>
<text transform="translate(296.6,449) rotate(-90)" font-size="14" fill="#2323c8" textLength="80.6" lengthAdjust="spacingAndGlyphs">Stage IV to II</text>
<text transform="translate(300.9,366.8) rotate(-90)" font-size="8.2" fill="#2323c8">b</text>
<text transform="translate(331.6,421.8) rotate(-90)" font-size="14" fill="#111" textLength="42.2" lengthAdjust="spacingAndGlyphs">Stage I</text>
<text transform="translate(335,378.1) rotate(-90)" font-size="8.2" fill="#111">d</text>
</svg></body></html>
